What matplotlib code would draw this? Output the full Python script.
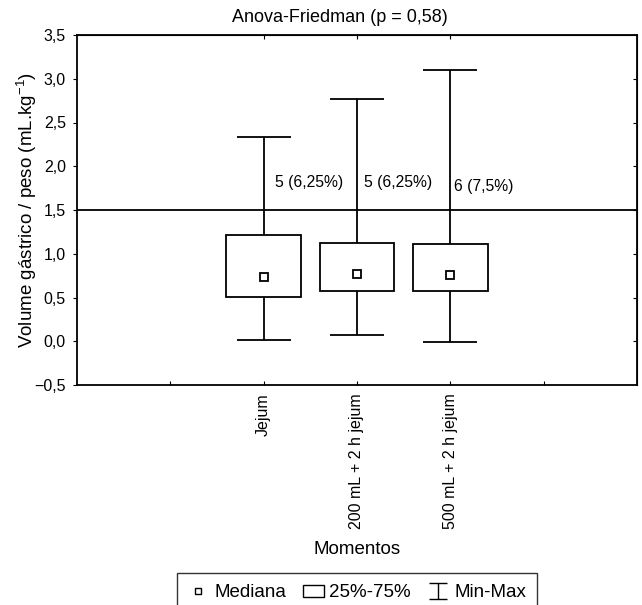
import matplotlib
matplotlib.use("Agg")
import matplotlib.pyplot as plt
from matplotlib.lines import Line2D
from matplotlib.patches import Patch, Rectangle
from matplotlib.path import Path
from matplotlib.ticker import FuncFormatter

plt.rcParams["font.family"] = ["Liberation Sans", "DejaVu Sans"]
plt.rcParams["font.size"] = 11
plt.rcParams["mathtext.fontset"] = "custom"
plt.rcParams["mathtext.rm"] = "Liberation Sans"

# data
categories = ["Jejum", "200 mL + 2 h jejum", "500 mL + 2 h jejum"]
positions = [1, 2, 3]
medians = [0.74, 0.77, 0.76]
q25 = [0.51, 0.57, 0.57]
q75 = [1.22, 1.12, 1.11]
mins = [0.01, 0.07, -0.01]
maxs = [2.33, 2.77, 3.10]
threshold = 1.5
counts = ["5 (6,25%)", "5 (6,25%)", "6 (7,5%)"]
count_x = [1.12, 2.07, 3.04]
count_y = [1.81, 1.82, 1.77]
y_ticks = [-0.5, 0.0, 0.5, 1.0, 1.5, 2.0, 2.5, 3.0, 3.5]

box_width = 0.8
cap_width = 0.58
lw = 1.3

fig = plt.figure(figsize=(6.42, 6.05), dpi=100)
ax = fig.add_axes([77 / 642, 1 - 385 / 605, 560 / 642, 350 / 605])

for pos, lo, hi, mn, mx, med in zip(positions, q25, q75, mins, maxs, medians):
    ax.add_patch(Rectangle((pos - box_width / 2, lo), box_width, hi - lo,
                           facecolor="white", edgecolor="black", lw=lw, zorder=3))
    ax.vlines(pos, hi, mx, color="black", lw=lw, zorder=2)
    ax.vlines(pos, mn, lo, color="black", lw=lw, zorder=2)
    ax.hlines([mn, mx], pos - cap_width / 2, pos + cap_width / 2, color="black", lw=lw, zorder=2)
    ax.plot(pos, med, marker="s", markersize=5.5, markerfacecolor="white",
            markeredgecolor="black", markeredgewidth=1.3, zorder=4)

ax.axhline(threshold, color="black", lw=lw, zorder=1)

for tx, ty, label in zip(count_x, count_y, counts):
    ax.text(tx, ty, label, ha="left", va="center", fontsize=11.3, zorder=5)

ax.set_xlim(-1, 5)
ax.set_ylim(-0.5, 3.5)
ax.set_xticks([0, 1, 2, 3, 4])
ax.set_xticklabels([""] + categories + [""], rotation=90, va="top", fontsize=11.5)
ax.tick_params(axis="x", direction="in", length=3, pad=6)
ax.set_yticks(y_ticks)
ax.yaxis.set_major_formatter(FuncFormatter(lambda v, p: f"{v:.1f}".replace(".", ",").replace("-", "\u2212")))
ax.tick_params(axis="y", direction="out", length=3, pad=5, labelsize=11.5)
for spine in ax.spines.values():
    spine.set_linewidth(1.3)

right = ax.secondary_yaxis("right")
right.set_yticks(y_ticks[1:-1])
right.tick_params(direction="in", length=3, labelright=False)
top = ax.secondary_xaxis("top")
top.set_xticks(positions)
top.tick_params(direction="in", length=3, labeltop=False)

ax.set_ylabel("Volume gástrico / peso (mL.kg$^{-1}$)", fontsize=13.5, labelpad=-3)
fig.text(340 / 642, 1 - 17 / 605, "Anova-Friedman (p = 0,58)", ha="center", va="center", fontsize=13)
fig.text(357 / 642, 1 - 550 / 605, "Momentos", ha="center", va="center", fontsize=13.5)

whisker_marker = Path([(-1.2, 1), (1.2, 1), (0, 1), (0, -1), (-1.2, -1), (1.2, -1)],
                      [Path.MOVETO, Path.LINETO, Path.MOVETO, Path.LINETO, Path.MOVETO, Path.LINETO])
handles = [
    Line2D([], [], linestyle="none", marker="s", markersize=4.5, markerfacecolor="white",
           markeredgecolor="black", markeredgewidth=1.0),
    Patch(facecolor="white", edgecolor="black", lw=1.0),
    Line2D([], [], linestyle="none", marker=whisker_marker, markersize=13,
           markerfacecolor="none", markeredgecolor="black", markeredgewidth=1.0),
]
leg = fig.legend(handles, ["Mediana", "25%-75%", "Min-Max"], ncol=3,
                 loc="upper center", bbox_to_anchor=(357 / 642, 1 - 573 / 605),
                 bbox_transform=fig.transFigure, frameon=True, fancybox=False,
                 edgecolor="black", fontsize=13.5, handlelength=1.1, handleheight=0.6,
                 handletextpad=0.3, columnspacing=0.9, borderpad=0.6, borderaxespad=0)
leg.get_frame().set_linewidth(1.0)

fig.savefig("out.png", dpi=100, facecolor="white")
